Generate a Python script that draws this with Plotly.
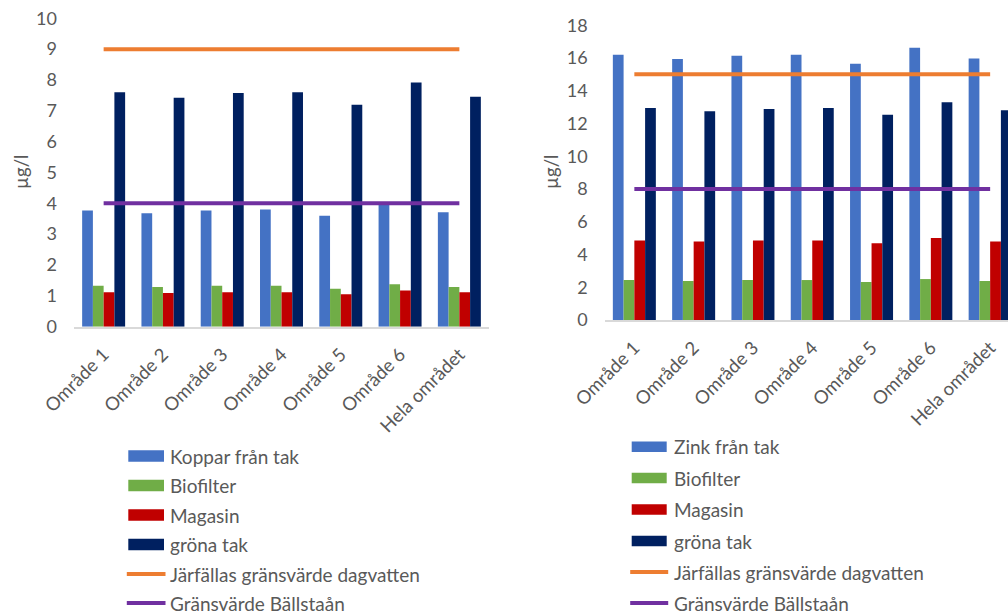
import plotly.graph_objects as go

# ---------------- data ----------------
categories = ["Område 1", "Område 2", "Område 3", "Område 4",
              "Område 5", "Område 6", "Hela området"]

# Copper (Koppar), µg/l
koppar_tak = [3.77, 3.68, 3.77, 3.80, 3.60, 3.96, 3.71]
koppar_biofilter = [1.33, 1.29, 1.33, 1.33, 1.23, 1.38, 1.29]
koppar_magasin = [1.12, 1.09, 1.12, 1.12, 1.05, 1.17, 1.12]
koppar_grona_tak = [7.60, 7.42, 7.58, 7.60, 7.20, 7.92, 7.46]
koppar_jarfalla_grans = 9
koppar_ballsta_grans = 4

# Zinc (Zink), µg/l
zink_tak = [16.19, 15.93, 16.13, 16.19, 15.64, 16.62, 15.97]
zink_biofilter = [2.44, 2.38, 2.44, 2.44, 2.32, 2.50, 2.38]
zink_magasin = [4.85, 4.79, 4.85, 4.85, 4.68, 5.01, 4.79]
zink_grona_tak = [12.95, 12.75, 12.89, 12.95, 12.53, 13.30, 12.81]
zink_jarfalla_grans = 15
zink_ballsta_grans = 8

koppar_names = ["Koppar från tak", "Biofilter", "Magasin", "gröna tak"]
zink_names = ["Zink från tak", "Biofilter", "Magasin", "gröna tak"]
line_names = ["Järfällas gränsvärde dagvatten", "Gränsvärde Bällstaån"]

bar_colors = ["#4472C4", "#70AD47", "#C00000", "#002060"]
line_colors = ["#ED7D31", "#7030A0"]
TEXT = "#595959"
FONT = "Lato"

W, H = 1008, 616


def px(x):
    return x / W


def py(y):
    return 1 - y / H


fig = go.Figure()

# ---------------- bars + limit lines ----------------
panels = [
    ("x", "y", koppar_names,
     [koppar_tak, koppar_biofilter, koppar_magasin, koppar_grona_tak],
     [koppar_jarfalla_grans, koppar_ballsta_grans]),
    ("x2", "y2", zink_names,
     [zink_tak, zink_biofilter, zink_magasin, zink_grona_tak],
     [zink_jarfalla_grans, zink_ballsta_grans]),
]

for xa, ya, names, series, limits in panels:
    for name, vals, col in zip(names, series, bar_colors):
        fig.add_trace(go.Bar(x=categories, y=vals, name=name,
                             marker=dict(color=col, line=dict(width=0)),
                             xaxis=xa, yaxis=ya, showlegend=False))
    for name, lim, col in zip(line_names, limits, line_colors):
        fig.add_trace(go.Scatter(x=categories, y=[lim] * len(categories),
                                 name=name, mode="lines",
                                 line=dict(color=col, width=4),
                                 xaxis=xa, yaxis=ya, showlegend=False))

# ---------------- axes ----------------
common_x = dict(type="category", showline=True, linecolor="#D9D9D9",
                linewidth=1.5, showgrid=False, zeroline=False, ticks="",
                tickangle=-45, automargin=False,
                tickfont=dict(family=FONT, size=18.5, color=TEXT),
                ticklabelstandoff=8)
common_y = dict(showline=False, showgrid=False, zeroline=False, ticks="",
                automargin=False,
                tickfont=dict(family=FONT, size=18, color=TEXT),
                ticklabelstandoff=16)

fig.update_layout(
    xaxis=dict(common_x, domain=[px(74), px(489)], range=[-0.5, 6.5],
               anchor="y"),
    yaxis=dict(common_y, domain=[py(326.7), py(18.3)], range=[0, 10],
               dtick=1, anchor="x"),
    xaxis2=dict(common_x, domain=[px(604.7), 1.0],
                range=[-0.5, -0.5 + (W - 604.7) / 59.3], anchor="y2"),
    yaxis2=dict(common_y, domain=[py(320), py(25.2)], range=[0, 18],
                dtick=2, anchor="x2"),
)

# ---------------- axis titles ----------------
annotations = [
    dict(text="µg/l", x=px(21), y=py(172), xref="paper", yref="paper",
         textangle=-90, showarrow=False, xanchor="center", yanchor="middle",
         font=dict(family=FONT, size=18.5, color=TEXT)),
    dict(text="µg/l", x=px(551), y=py(172), xref="paper", yref="paper",
         textangle=-90, showarrow=False, xanchor="center", yanchor="middle",
         font=dict(family=FONT, size=18.5, color=TEXT)),
]

# ---------------- legends ----------------
shapes = []
legends = [
    (koppar_names, 128.3, 164, 168,
     [456.0, 485.5, 515.0, 544.5, 574.0, 603.0], 11.7),
    (zink_names, 631.7, 666.7, 671.7,
     [446.7, 478.0, 509.5, 541.0, 572.0, 603.0], 10.5),
]
for names, sx0, sx1, tx, rows, sh in legends:
    labels = names + line_names
    for i, (label, ry) in enumerate(zip(labels, rows)):
        if i < 4:
            shapes.append(dict(type="rect", xref="paper", yref="paper",
                               x0=px(sx0), x1=px(sx1),
                               y0=py(ry + sh / 2), y1=py(ry - sh / 2),
                               fillcolor=bar_colors[i], line=dict(width=0)))
        else:
            shapes.append(dict(type="line", xref="paper", yref="paper",
                               x0=px(sx0 - 1.5), x1=px(sx1 + 1.5),
                               y0=py(ry), y1=py(ry),
                               line=dict(color=line_colors[i - 4], width=4)))
        annotations.append(dict(text=label, x=px(tx), y=py(ry),
                                xref="paper", yref="paper", showarrow=False,
                                xanchor="left", yanchor="middle",
                                font=dict(family=FONT, size=19, color=TEXT)))

fig.update_layout(
    width=W, height=H,
    margin=dict(l=0, r=0, t=0, b=0),
    paper_bgcolor="white", plot_bgcolor="white",
    barmode="group", bargap=0.275, bargroupgap=0,
    showlegend=False,
    shapes=shapes, annotations=annotations,
)

fig.write_html("out.html")
